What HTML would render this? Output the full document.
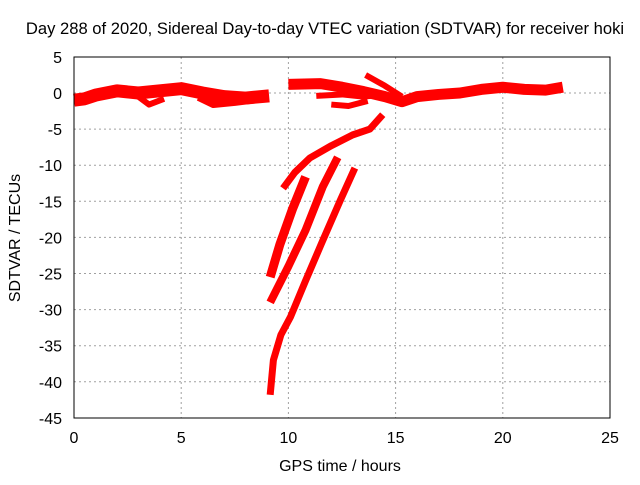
<!DOCTYPE html>
<html><head><meta charset="utf-8"><style>
body{margin:0;background:#fff;font-family:"Liberation Sans",sans-serif}
svg text{font-family:"Liberation Sans",sans-serif;font-size:16px;fill:#000}
</style></head><body>
<svg id="c" width="640" height="480">
<text x="325" y="34" text-anchor="middle" style="font-size:16.6px">Day 288 of 2020, Sidereal Day-to-day VTEC variation (SDTVAR) for receiver hoki</text>
<text x="340" y="471" text-anchor="middle">GPS time / hours</text>
<text transform="translate(20,238) rotate(-90)" text-anchor="middle">SDTVAR / TECUs</text>
<g id="grid"></g><g id="ticks"></g><g id="series"></g>
<rect x="74" y="57" width="536" height="361" fill="none" stroke="#000" stroke-width="1"/>
</svg>
<script>
const xTicks=[0,5,10,15,20,25];
const yTicks=[5,0,-5,-10,-15,-20,-25,-30,-35,-40,-45];
const bandEarly=[[0,-1],[0.5,-0.8],[1,-0.3],[2,0.3],[3,0],[4,0.3],[5,0.6],[6,0],[7,-0.5],[8,-0.7],[9.1,-0.4]];
const bandEarlyDipA=[[3,-0.5],[3.5,-1.6],[4.2,-0.8]];
const bandEarlyDipB=[[5.8,-0.6],[6.5,-1.6],[7.5,-1.3],[8.3,-1]];
const bandLate=[[10,1.2],[11.5,1.3],[12.5,0.8],[13.5,0.2],[14.5,-0.5],[15.3,-1.2],[16,-0.5],[17,-0.2],[18,0],[19,0.5],[20,0.8],[21,0.5],[22,0.4],[22.8,0.8]];
const branchMid=[[11.3,-0.4],[12.5,-0.2],[13.5,-0.5],[14.5,-0.2]];
const branchLow=[[12,-1.6],[12.8,-1.8],[13.7,-1.1]];
const branchDiag=[[13.6,2.5],[14.5,1],[15.3,-0.5]];
const curveUp=[[9.75,-13.2],[10.3,-11],[11,-9],[12,-7.3],[13,-5.8],[13.8,-5],[14.4,-3]];
const lineA=[[9.15,-25.5],[9.6,-21],[10.2,-16],[10.8,-11.6]];
const lineB=[[9.15,-29],[10,-24],[10.8,-19],[11.6,-13],[12.3,-8.9]];
const lineC=[[9.15,-41.8],[9.3,-37],[9.65,-33.5],[10.1,-31],[10.8,-26],[11.55,-20.8],[12.4,-15],[13.1,-10.4]];
const X=h=>74+h*(536/25), Y=v=>93-v*(361/50);
const NS="http://www.w3.org/2000/svg";
const g=document.getElementById('grid'),t=document.getElementById('ticks'),s=document.getElementById('series');
function mk(tag,a,p){const e=document.createElementNS(NS,tag);for(const k in a)e.setAttribute(k,a[k]);p.appendChild(e);return e;}
xTicks.forEach(v=>{
 if(v>0&&v<25){const l=mk('line',{x1:X(v),x2:X(v),y1:57,y2:418,stroke:'#a0a0a0','stroke-dasharray':'2,3'},g);
 
 }
 const tx=mk('text',{x:X(v),y:443,'text-anchor':'middle'},t);tx.textContent=v;
 
 
});
yTicks.forEach(v=>{
 if(v<5&&v>-45){const l=mk('line',{x1:74,x2:610,y1:Y(v),y2:Y(v),stroke:'#a0a0a0','stroke-dasharray':'2,3'},g);
 
 }
 const tx=mk('text',{x:62,y:Y(v)+6,'text-anchor':'end'},t);tx.textContent=v;
 
 
});
function draw(arr,name,w){
 const p=mk('polyline',{points:arr.map(d=>X(d[0])+','+Y(d[1])).join(' '),fill:'none',stroke:'#f00','stroke-width':w,'stroke-linejoin':'round','stroke-linecap':'butt'},s);
 
 
}
draw(bandEarly,'series-early-band',13);
draw(bandEarlyDipA,'series-early-dip-a',6);
draw(bandEarlyDipB,'series-early-dip-b',7);
draw(bandLate,'series-late-band',11);
draw(branchMid,'series-late-branch-mid',6);
draw(branchLow,'series-late-branch-low',6);
draw(branchDiag,'series-late-branch-diag',6);
draw(curveUp,'series-curve-up',7);
draw(lineA,'series-line-a',9);
draw(lineB,'series-line-b',8);
draw(lineC,'series-line-c',7);
</script>
</body></html>
